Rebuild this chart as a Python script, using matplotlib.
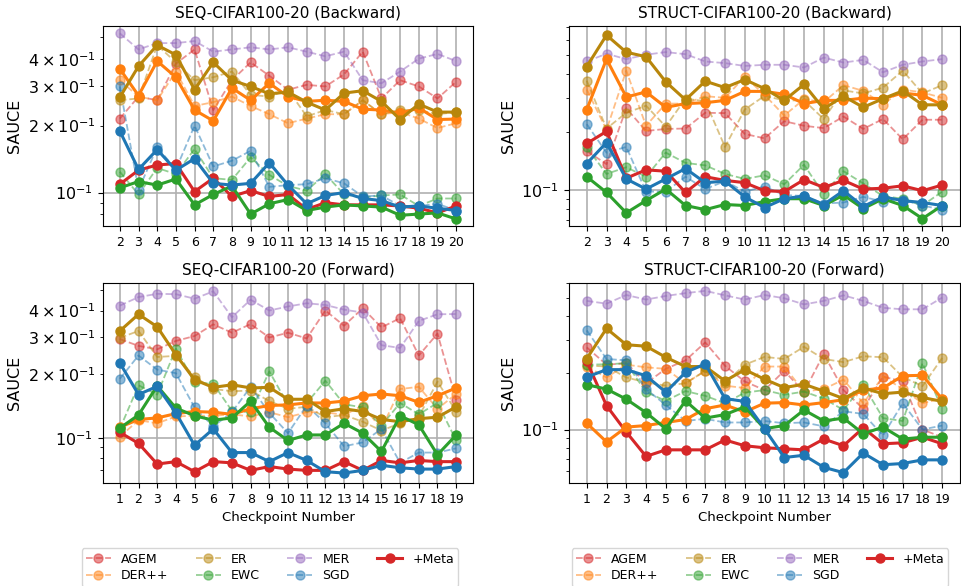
import matplotlib
matplotlib.use("Agg")
import matplotlib.pyplot as plt
from matplotlib.lines import Line2D

# checkpoints
bwd_x = list(range(2, 21))
fwd_x = list(range(1, 20))

# ---- SEQ-CIFAR100-20 (Backward)
seq_bwd_agem = [0.215, 0.27, 0.26, 0.38, 0.44, 0.235, 0.32, 0.385, 0.335, 0.29, 0.305, 0.30, 0.34, 0.43, 0.265, 0.32, 0.30, 0.265, 0.315]
seq_bwd_derpp = [0.32, 0.27, 0.26, 0.35, 0.245, 0.255, 0.27, 0.245, 0.225, 0.205, 0.215, 0.225, 0.225, 0.26, 0.225, 0.23, 0.215, 0.195, 0.205]
seq_bwd_er = [0.26, 0.265, 0.46, 0.385, 0.32, 0.33, 0.35, 0.275, 0.27, 0.29, 0.22, 0.235, 0.225, 0.26, 0.225, 0.235, 0.235, 0.225, 0.23]
seq_bwd_ewc = [0.124, 0.098, 0.129, 0.121, 0.157, 0.116, 0.114, 0.144, 0.12, 0.107, 0.102, 0.121, 0.098, 0.095, 0.097, 0.098, 0.087, 0.094, 0.094]
seq_bwd_mer = [0.52, 0.44, 0.47, 0.47, 0.48, 0.43, 0.44, 0.45, 0.44, 0.45, 0.43, 0.41, 0.43, 0.32, 0.31, 0.35, 0.40, 0.42, 0.39]
seq_bwd_sgd = [0.30, 0.103, 0.16, 0.127, 0.20, 0.131, 0.139, 0.154, 0.106, 0.108, 0.109, 0.116, 0.11, 0.096, 0.097, 0.087, 0.087, 0.089, 0.083]
seq_bwd_agem_meta = [0.109, 0.126, 0.133, 0.135, 0.101, 0.116, 0.096, 0.102, 0.096, 0.098, 0.084, 0.09, 0.088, 0.088, 0.088, 0.087, 0.085, 0.081, 0.087]
seq_bwd_derpp_meta = [0.36, 0.273, 0.39, 0.33, 0.235, 0.21, 0.295, 0.26, 0.31, 0.27, 0.257, 0.26, 0.257, 0.237, 0.235, 0.227, 0.24, 0.213, 0.214]
seq_bwd_er_meta = [0.268, 0.37, 0.46, 0.416, 0.29, 0.385, 0.32, 0.30, 0.278, 0.283, 0.255, 0.235, 0.28, 0.287, 0.257, 0.213, 0.25, 0.23, 0.23]
seq_bwd_ewc_meta = [0.105, 0.112, 0.108, 0.115, 0.088, 0.098, 0.107, 0.08, 0.089, 0.093, 0.083, 0.086, 0.088, 0.087, 0.086, 0.079, 0.08, 0.081, 0.076]
seq_bwd_sgd_meta = [0.189, 0.127, 0.156, 0.126, 0.142, 0.11, 0.108, 0.11, 0.136, 0.108, 0.089, 0.097, 0.1, 0.094, 0.092, 0.086, 0.087, 0.085, 0.083]

# ---- STRUCT-CIFAR100-20 (Backward)
str_bwd_agem = [0.159, 0.136, 0.265, 0.202, 0.207, 0.208, 0.251, 0.25, 0.195, 0.185, 0.227, 0.215, 0.209, 0.24, 0.207, 0.233, 0.183, 0.231, 0.231]
str_bwd_derpp = [0.331, 0.205, 0.415, 0.215, 0.28, 0.28, 0.306, 0.30, 0.386, 0.311, 0.243, 0.295, 0.285, 0.349, 0.326, 0.277, 0.331, 0.32, 0.30]
str_bwd_er = [0.368, 0.208, 0.251, 0.273, 0.213, 0.297, 0.288, 0.167, 0.261, 0.307, 0.291, 0.291, 0.233, 0.328, 0.316, 0.339, 0.415, 0.316, 0.349]
str_bwd_ewc = [0.166, 0.121, 0.131, 0.117, 0.156, 0.138, 0.134, 0.121, 0.114, 0.119, 0.107, 0.135, 0.095, 0.125, 0.108, 0.093, 0.09, 0.083, 0.098]
str_bwd_mer = [0.463, 0.508, 0.476, 0.502, 0.518, 0.505, 0.463, 0.454, 0.439, 0.445, 0.445, 0.431, 0.485, 0.457, 0.472, 0.407, 0.445, 0.463, 0.476]
str_bwd_sgd = [0.219, 0.156, 0.167, 0.098, 0.098, 0.117, 0.101, 0.111, 0.098, 0.104, 0.094, 0.093, 0.085, 0.086, 0.092, 0.087, 0.089, 0.083, 0.079]
str_bwd_agem_meta = [0.174, 0.201, 0.115, 0.127, 0.125, 0.097, 0.117, 0.112, 0.109, 0.099, 0.098, 0.113, 0.103, 0.112, 0.101, 0.102, 0.105, 0.099, 0.106]
str_bwd_derpp_meta = [0.261, 0.476, 0.303, 0.322, 0.268, 0.28, 0.283, 0.291, 0.324, 0.324, 0.313, 0.28, 0.291, 0.291, 0.299, 0.297, 0.318, 0.309, 0.276]
str_bwd_er_meta = [0.436, 0.634, 0.517, 0.49, 0.363, 0.293, 0.366, 0.339, 0.373, 0.335, 0.291, 0.352, 0.263, 0.306, 0.268, 0.297, 0.326, 0.276, 0.276]
str_bwd_ewc_meta = [0.117, 0.097, 0.076, 0.088, 0.101, 0.083, 0.079, 0.084, 0.083, 0.087, 0.09, 0.09, 0.083, 0.094, 0.08, 0.09, 0.083, 0.071, 0.083]
str_bwd_sgd_meta = [0.137, 0.176, 0.114, 0.101, 0.114, 0.129, 0.109, 0.111, 0.092, 0.081, 0.09, 0.093, 0.084, 0.099, 0.082, 0.092, 0.088, 0.086, 0.083]

# ---- SEQ-CIFAR100-20 (Forward)
seq_fwd_agem = [0.293, 0.272, 0.262, 0.287, 0.303, 0.344, 0.314, 0.345, 0.298, 0.314, 0.295, 0.40, 0.339, 0.41, 0.333, 0.368, 0.245, 0.311, 0.151]
seq_fwd_derpp = [0.101, 0.121, 0.117, 0.126, 0.127, 0.127, 0.129, 0.126, 0.132, 0.125, 0.132, 0.132, 0.128, 0.142, 0.11, 0.17, 0.174, 0.137, 0.161]
seq_fwd_er = [0.297, 0.32, 0.241, 0.244, 0.194, 0.17, 0.166, 0.167, 0.149, 0.137, 0.14, 0.125, 0.128, 0.119, 0.108, 0.117, 0.126, 0.184, 0.133]
seq_fwd_ewc = [0.11, 0.177, 0.16, 0.264, 0.183, 0.18, 0.134, 0.132, 0.206, 0.143, 0.146, 0.186, 0.144, 0.139, 0.114, 0.146, 0.129, 0.146, 0.097]
seq_fwd_mer = [0.422, 0.463, 0.48, 0.478, 0.455, 0.493, 0.372, 0.45, 0.40, 0.418, 0.433, 0.425, 0.404, 0.391, 0.274, 0.266, 0.357, 0.384, 0.385]
seq_fwd_sgd = [0.19, 0.245, 0.21, 0.202, 0.139, 0.113, 0.132, 0.174, 0.131, 0.105, 0.142, 0.117, 0.091, 0.095, 0.11, 0.076, 0.085, 0.085, 0.089]
seq_fwd_agem_meta = [0.106, 0.094, 0.075, 0.077, 0.069, 0.077, 0.076, 0.07, 0.073, 0.071, 0.07, 0.07, 0.077, 0.07, 0.078, 0.076, 0.078, 0.077, 0.077]
seq_fwd_derpp_meta = [0.112, 0.122, 0.124, 0.13, 0.133, 0.132, 0.129, 0.137, 0.142, 0.143, 0.146, 0.146, 0.149, 0.158, 0.161, 0.158, 0.147, 0.158, 0.172]
seq_fwd_er_meta = [0.32, 0.384, 0.335, 0.247, 0.188, 0.173, 0.178, 0.172, 0.173, 0.152, 0.152, 0.133, 0.137, 0.133, 0.122, 0.119, 0.123, 0.125, 0.14]
seq_fwd_ewc_meta = [0.111, 0.128, 0.176, 0.138, 0.127, 0.121, 0.124, 0.149, 0.112, 0.097, 0.103, 0.103, 0.117, 0.105, 0.086, 0.127, 0.115, 0.083, 0.103]
seq_fwd_sgd_meta = [0.226, 0.16, 0.175, 0.131, 0.092, 0.11, 0.085, 0.085, 0.077, 0.085, 0.078, 0.069, 0.068, 0.07, 0.074, 0.072, 0.071, 0.071, 0.073]

# ---- STRUCT-CIFAR100-20 (Forward)
str_fwd_agem = [0.273, 0.221, 0.225, 0.176, 0.21, 0.233, 0.29, 0.218, 0.18, 0.162, 0.205, 0.158, 0.252, 0.162, 0.129, 0.191, 0.18, 0.10, 0.091]
str_fwd_derpp = [0.216, 0.189, 0.221, 0.214, 0.21, 0.176, 0.205, 0.171, 0.166, 0.216, 0.216, 0.159, 0.164, 0.184, 0.138, 0.191, 0.164, 0.138, 0.146]
str_fwd_er = [0.219, 0.216, 0.189, 0.178, 0.171, 0.176, 0.205, 0.176, 0.221, 0.243, 0.237, 0.275, 0.237, 0.228, 0.245, 0.242, 0.19, 0.17, 0.24]
str_fwd_ewc = [0.221, 0.222, 0.225, 0.158, 0.142, 0.16, 0.151, 0.138, 0.157, 0.162, 0.153, 0.159, 0.146, 0.127, 0.173, 0.115, 0.111, 0.225, 0.128]
str_fwd_mer = [0.482, 0.466, 0.518, 0.49, 0.512, 0.53, 0.545, 0.516, 0.49, 0.518, 0.498, 0.462, 0.482, 0.516, 0.482, 0.443, 0.435, 0.435, 0.502]
str_fwd_sgd = [0.336, 0.237, 0.233, 0.164, 0.135, 0.111, 0.114, 0.109, 0.109, 0.111, 0.108, 0.109, 0.104, 0.125, 0.121, 0.093, 0.138, 0.10, 0.105]
str_fwd_agem_meta = [0.23, 0.134, 0.097, 0.072, 0.078, 0.078, 0.078, 0.088, 0.082, 0.08, 0.079, 0.078, 0.089, 0.082, 0.102, 0.084, 0.085, 0.091, 0.084]
str_fwd_derpp_meta = [0.108, 0.086, 0.103, 0.105, 0.109, 0.113, 0.129, 0.135, 0.124, 0.138, 0.139, 0.135, 0.139, 0.144, 0.162, 0.166, 0.193, 0.194, 0.145]
str_fwd_er_meta = [0.238, 0.344, 0.282, 0.277, 0.242, 0.216, 0.216, 0.181, 0.208, 0.185, 0.167, 0.174, 0.16, 0.146, 0.166, 0.155, 0.158, 0.148, 0.141]
str_fwd_ewc_meta = [0.173, 0.164, 0.145, 0.123, 0.101, 0.142, 0.115, 0.12, 0.132, 0.101, 0.105, 0.127, 0.111, 0.115, 0.095, 0.103, 0.089, 0.091, 0.091]
str_fwd_sgd_meta = [0.19, 0.208, 0.208, 0.193, 0.158, 0.201, 0.223, 0.146, 0.141, 0.101, 0.071, 0.073, 0.063, 0.059, 0.075, 0.065, 0.066, 0.069, 0.069]

methods = ["AGEM", "DER++", "ER", "EWC", "MER", "SGD"]
colors = {"AGEM": "tab:red", "DER++": "tab:orange", "ER": "darkgoldenrod",
          "EWC": "tab:green", "MER": "tab:purple", "SGD": "tab:blue"}

panels = [
    ("SEQ-CIFAR100-20 (Backward)", bwd_x, (0.0707, 0.561),
     [seq_bwd_agem, seq_bwd_derpp, seq_bwd_er, seq_bwd_ewc, seq_bwd_mer, seq_bwd_sgd],
     [seq_bwd_agem_meta, seq_bwd_derpp_meta, seq_bwd_er_meta, seq_bwd_ewc_meta, None, seq_bwd_sgd_meta]),
    ("STRUCT-CIFAR100-20 (Backward)", bwd_x, (0.065, 0.707),
     [str_bwd_agem, str_bwd_derpp, str_bwd_er, str_bwd_ewc, str_bwd_mer, str_bwd_sgd],
     [str_bwd_agem_meta, str_bwd_derpp_meta, str_bwd_er_meta, str_bwd_ewc_meta, None, str_bwd_sgd_meta]),
    ("SEQ-CIFAR100-20 (Forward)", fwd_x, (0.061, 0.54),
     [seq_fwd_agem, seq_fwd_derpp, seq_fwd_er, seq_fwd_ewc, seq_fwd_mer, seq_fwd_sgd],
     [seq_fwd_agem_meta, seq_fwd_derpp_meta, seq_fwd_er_meta, seq_fwd_ewc_meta, None, seq_fwd_sgd_meta]),
    ("STRUCT-CIFAR100-20 (Forward)", fwd_x, (0.052, 0.60),
     [str_fwd_agem, str_fwd_derpp, str_fwd_er, str_fwd_ewc, str_fwd_mer, str_fwd_sgd],
     [str_fwd_agem_meta, str_fwd_derpp_meta, str_fwd_er_meta, str_fwd_ewc_meta, None, str_fwd_sgd_meta]),
]

# axes boxes [left, bottom, width, height] in figure fraction
boxes = [
    [103 / 962, 1 - 226 / 586, 370 / 962, 200 / 586],
    [569 / 962, 1 - 226 / 586, 391 / 962, 200 / 586],
    [103 / 962, 1 - 483 / 586, 370 / 962, 200 / 586],
    [569 / 962, 1 - 483 / 586, 391 / 962, 200 / 586],
]

fig = plt.figure(figsize=(9.62, 5.86), dpi=100)

for i, (title, x, ylim, base, meta) in enumerate(panels):
    ax = fig.add_axes(boxes[i])
    for m, ys in zip(methods, base):
        ax.plot(x, ys, "--o", color=colors[m], alpha=0.5, lw=1.3, ms=6.5, zorder=2)
    for m, ys in zip(methods, meta):
        if ys is None:
            continue
        ax.plot(x, ys, "-o", color=colors[m], lw=2.2, ms=6.5, zorder=3)
    ax.set_yscale("log")
    ax.set_ylim(*ylim)
    ax.set_xticks(x)
    ax.grid(True, color="#b0b0b0", lw=1.2)
    ax.set_axisbelow(True)
    ax.tick_params(axis="x", labelsize=9)
    ax.tick_params(axis="y", which="both", labelsize=11.5)
    ax.set_title(title, fontsize=11)
    ax.set_ylabel("SAUCE", fontsize=11.5)
    if i >= 2:
        ax.set_xlabel("Checkpoint Number", fontsize=9.5)

# legends below each column
handles = [Line2D([], [], ls="--", marker="o", color=colors[m], alpha=0.5, lw=1.3, ms=6.5) for m in methods]
handles.append(Line2D([], [], ls="-", marker="o", color="tab:red", lw=2.2, ms=6.5))
labels = methods + ["+Meta"]
for cx in (270 / 962, 760 / 962):
    fig.legend(handles, labels, loc="upper center", bbox_to_anchor=(cx, 1 - 542 / 586),
               ncol=4, fontsize=9, handlelength=2, columnspacing=2.2,
               labelspacing=0.3, borderpad=0.35)

fig.savefig("out.png", dpi=100)
